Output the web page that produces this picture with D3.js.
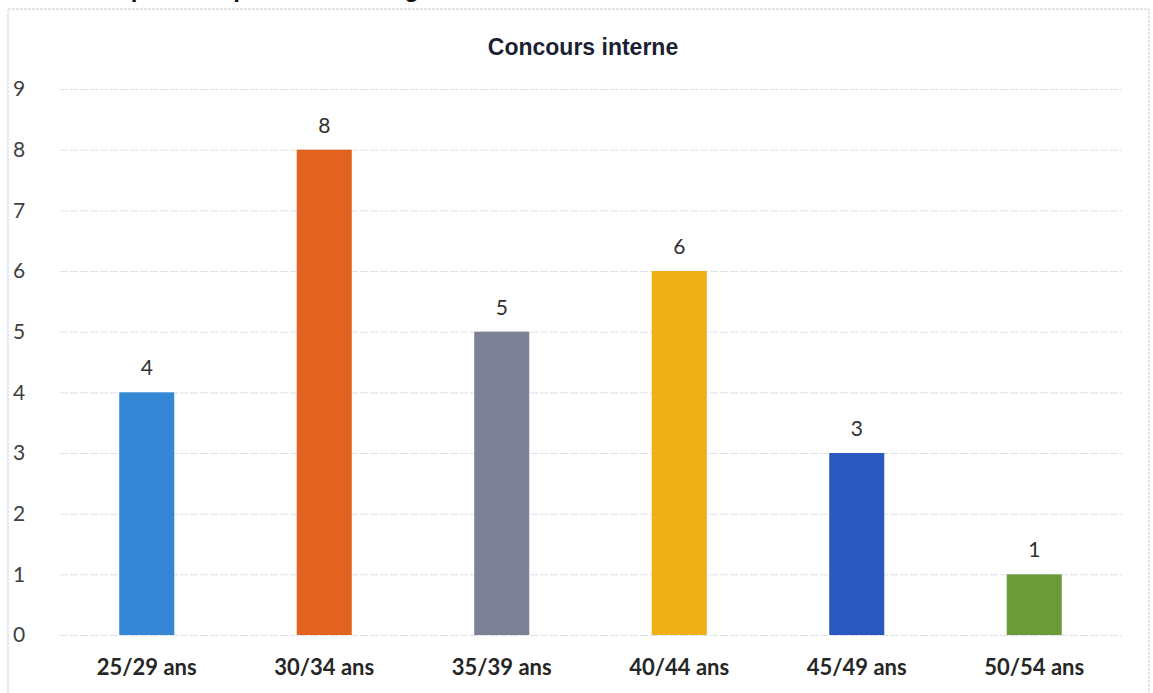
<!DOCTYPE html>
<html>
<head>
<meta charset="utf-8">
<script src="https://cdn.jsdelivr.net/npm/d3@7"></script>
<style>
  body { margin: 0; background: #fff; }
  svg { display: block; }
  .tick-label { font-family: Lato, "Open Sans", sans-serif; font-size: 21px; fill: #404040; }
  .cat-label { font-family: Lato, "Open Sans", sans-serif; font-size: 22px; font-weight: bold; fill: #262626; }
  .val-label { font-family: Lato, "Open Sans", sans-serif; font-size: 21px; fill: #303030; text-anchor: middle; }
  .title { font-family: "Liberation Sans", Arial, sans-serif; font-size: 23px; font-weight: bold; fill: #1c1f33; text-anchor: middle; }
  .grid line { stroke: #dfe1ea; stroke-width: 1; stroke-dasharray: 8 2; }
</style>
</head>
<body>
<div id="chart"></div>
<script>
const categories = ["25/29 ans", "30/34 ans", "35/39 ans", "40/44 ans", "45/49 ans", "50/54 ans"];
const values = [4, 8, 5, 6, 3, 1];
const colors = ["#3387d4", "#e2631f", "#7d8196", "#efaf17", "#2b57c0", "#6c9a38"];
const yTicks = [0, 1, 2, 3, 4, 5, 6, 7, 8, 9];

const width = 1153;
const height = 693;

const svg = d3.select("#chart")
  .append("svg")
  .attr("width", width)
  .attr("height", height);

// page heading above the chart, cut off by the scan
svg.append("text")
  .attr("x", 100)
  .attr("y", -3)
  .attr("font-family", "Liberation Sans, Arial, sans-serif")
  .attr("font-size", 24)
  .attr("font-weight", "bold")
  .attr("fill", "#111")
  .text("Répartition par tranche d'âges");

// chart frame
svg.append("path")
  .attr("d", `M8,${height} V9 H1149 V${height}`)
  .attr("fill", "none")
  .attr("stroke", "#c9cbd8")
  .attr("stroke-width", 1)
  .attr("stroke-dasharray", "3 1");

const x = d3.scaleBand()
  .domain(categories)
  .range([58, 1123])
  .paddingInner(0.69)
  .paddingOuter(0.345);

const y = d3.scaleLinear()
  .domain([0, 9])
  .range([635, 89]);

svg.append("text")
  .attr("class", "title")
  .attr("x", 583)
  .attr("y", 55)
  .text("Concours interne");

// gridlines
svg.append("g")
  .attr("class", "grid")
  .selectAll("line")
  .data(yTicks)
  .enter()
  .append("line")
  .attr("x1", 60)
  .attr("x2", 1122)
  .attr("y1", (d) => y(d) + 0.5)
  .attr("y2", (d) => y(d) + 0.5);

// y axis labels
svg.append("g")
  .selectAll("text")
  .data(yTicks)
  .enter()
  .append("text")
  .attr("class", "tick-label")
  .attr("x", 13)
  .attr("y", (d) => y(d))
  .attr("dy", "0.35em")
  .text((d) => d);

// bars
svg.append("g")
  .selectAll("rect")
  .data(values)
  .enter()
  .append("rect")
  .attr("x", (d, i) => x(categories[i]))
  .attr("y", (d) => y(d))
  .attr("width", x.bandwidth())
  .attr("height", (d) => y(0) - y(d))
  .attr("fill", (d, i) => colors[i]);

// value labels
svg.append("g")
  .selectAll("text")
  .data(values)
  .enter()
  .append("text")
  .attr("class", "val-label")
  .attr("x", (d, i) => x(categories[i]) + x.bandwidth() / 2)
  .attr("y", (d) => y(d) - 17)
  .text((d) => d);

// category labels
svg.append("g")
  .selectAll("text")
  .data(categories)
  .enter()
  .append("text")
  .attr("class", "cat-label")
  .attr("x", (d) => x(d) + x.bandwidth() / 2)
  .attr("y", 675)
  .attr("text-anchor", "middle")
  .text((d) => d);
</script>
</body>
</html>
